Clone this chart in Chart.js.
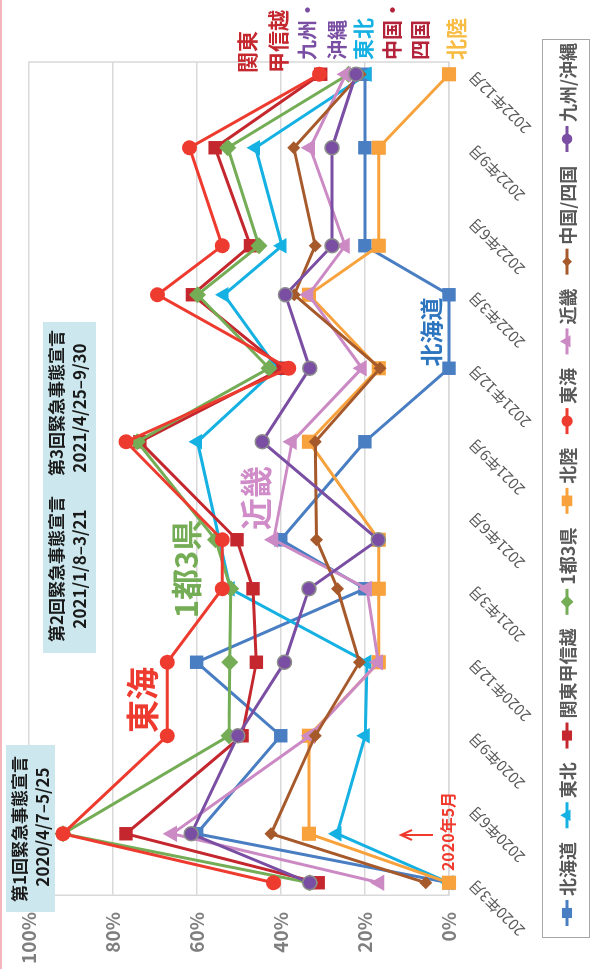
<!DOCTYPE html>
<html lang="ja">
<head>
<meta charset="utf-8">
<title>地域別の推移</title>
<script src="https://cdn.jsdelivr.net/npm/chart.js@4.4.1/dist/chart.umd.min.js"></script>
<style>
  html, body { margin: 0; padding: 0; background: #fff; overflow: hidden; }
  /* the chart is laid out landscape and turned a quarter to the left */
  #wrap {
    position: absolute; left: 0; top: 0;
    width: 969px; height: 592px;
    transform-origin: 0 0;
    transform: translate(0, 969px) rotate(-90deg);
  }
</style>
</head>
<body>
<div id="wrap"><canvas id="chart" width="969" height="592"></canvas></div>
<script>
const periods = ["2020/3", "2020/5", "2020/9", "2020/12", "2021/3", "2021/5",
                 "2021/9", "2021/12", "2022/3", "2022/5", "2022/9", "2022/12"];

const hokkaido  = [0, 60, 40, 60, 20, 40, 20, 0, 0, 20, 20, 20];
const tohoku    = [0, 26.6, 19.9, 19.5, 52, null, 59.8, 40.9, 53.5, 39.7, 46.0, 19.5];
const kanto     = [31.1, 76.8, 49.2, 45.8, 46.6, 50.4, 73.5, 39.5, 61.0, 47.2, 55.6, 30.5];
const tokyo3    = [33.1, 91.8, 52.3, 52.1, 51.9, 55.5, 74.1, 42.8, 59.8, 45.2, 52.6, 23.9];
const hokuriku  = [0, 33.3, 33.3, 16.7, 16.7, 16.7, 33.3, 16.7, 33.3, 16.7, 16.7, 0];
const tokai     = [41.7, 91.8, 67.0, 67.0, 53.9, 53.9, 76.8, 38.1, 69.3, 53.9, 61.7, 30.8];
const kinki     = [16.5, 65.8, 33.0, 16.8, 19.5, 41.7, 37.3, 20.7, 33.4, 24.7, 33.0, 24.5];
const chugoku   = [5.5, 42.3, 31.8, 21.3, 26.5, 31.5, 31.8, 16.4, 36.8, 31.8, 36.9, 21.1];
const kyushu    = [33.1, 61.3, 50.2, 39.1, 33.3, 16.8, 44.4, 33.1, 38.9, 27.8, 27.8, 22.1];

const yTicks = [0, 20, 40, 60, 80, 100];

const FONT = '"Noto Sans CJK JP", "Noto Sans", sans-serif';

const series = [
  { label: "北海道",    data: hokkaido, color: "#4A7EC3", style: "rect",     r: 9.5 },
  { label: "東北",      data: tohoku,   color: "#14B1E2", style: "triangle", r: 9 },
  { label: "関東甲信越", data: kanto,    color: "#C4282E", style: "rect",     r: 9.5 },
  { label: "1都3県",    data: tokyo3,   color: "#74AD55", style: "rectRot",  r: 8.5 },
  { label: "北陸",      data: hokuriku, color: "#F7A23D", style: "rect",     r: 10 },
  { label: "東海",      data: tokai,    color: "#EE3B2F", style: "circle",   r: 7.5 },
  { label: "近畿",      data: kinki,    color: "#CC8AC5", style: "triangle", r: 9.5 },
  { label: "中国/四国",  data: chugoku,  color: "#A65A2B", style: "rectRot",  r: 6.5 },
  { label: "九州/沖縄",  data: kyushu,   color: "#7A4EA3", style: "circle",   r: 7, edge: "#8c8c8c" }
];

// months counted from 2020/3
function monthOffset(p) {
  const [y, m] = p.split("/").map(Number);
  return (y - 2020) * 12 + m - 3;
}
function monthLabel(v) {
  const t = v + 2;
  return (2020 + Math.floor(t / 12)) + "年" + (t % 12 + 1) + "月";
}

function marker(ctx, style, x, y, r) {
  ctx.beginPath();
  if (style === "circle") {
    ctx.arc(x, y, r, 0, Math.PI * 2);
  } else if (style === "rect") {
    const h = r * Math.SQRT1_2;
    ctx.rect(x - h, y - h, 2 * h, 2 * h);
  } else if (style === "rectRot") {
    ctx.moveTo(x, y - r); ctx.lineTo(x + r, y); ctx.lineTo(x, y + r); ctx.lineTo(x - r, y);
    ctx.closePath();
  } else {
    ctx.moveTo(x, y - r);
    ctx.lineTo(x + r * 0.866, y + r * 0.5);
    ctx.lineTo(x - r * 0.866, y + r * 0.5);
    ctx.closePath();
  }
  ctx.fill();
}

function text(ctx, str, x, y, size, color, align) {
  ctx.font = `bold ${size}px ${FONT}`;
  ctx.fillStyle = color;
  ctx.textAlign = align || "center";
  ctx.textBaseline = "middle";
  ctx.fillText(str, x, y);
}

const notes = {
  id: "notes",
  beforeDatasetsDraw(chart) {
    const { ctx, chartArea: a } = chart;
    ctx.save();
    // right edge of the plot
    ctx.strokeStyle = "#d9d9d9";
    ctx.lineWidth = 1.5;
    ctx.beginPath(); ctx.moveTo(a.right, a.top); ctx.lineTo(a.right, a.bottom); ctx.stroke();
    // state of emergency boxes
    ctx.fillStyle = "#CCE8EE";
    ctx.fillRect(57, 6, 167, 49);
    ctx.fillRect(316, 43, 331, 53);
    ctx.restore();
  },
  afterDraw(chart) {
    const { ctx } = chart;
    ctx.save();

    ctx.strokeStyle = "#F5B5BD";
    ctx.lineWidth = 2;
    ctx.beginPath(); ctx.moveTo(0, 1); ctx.lineTo(969, 1); ctx.stroke();

    text(ctx, "第1回緊急事態宣言", 140, 20, 17, "#1a1a1a");
    text(ctx, "2020/4/7\u20135/25", 142, 43, 17, "#1a1a1a");
    text(ctx, "第2回緊急事態宣言", 400, 57, 17, "#1a1a1a");
    text(ctx, "2021/1/8\u20133/21", 400, 80, 17, "#1a1a1a");
    text(ctx, "第3回緊急事態宣言", 566, 57, 17, "#1a1a1a");
    text(ctx, "2021/4/25\u20139/30", 561, 80, 17, "#1a1a1a");

    text(ctx, "東海", 269, 142, 33, "#EE3B2F");
    text(ctx, "1都3県", 400, 186, 31, "#74AD55");
    text(ctx, "近畿", 471, 256, 32, "#D08CC8");
    text(ctx, "北海道", 637, 431, 23, "#2E75C0");

    text(ctx, "関東", 896, 247, 21, "#C4282E", "left");
    text(ctx, "甲信越", 896, 278, 21, "#C4282E", "left");
    text(ctx, "九州・", 909, 307, 20, "#7A4EA3", "left");
    text(ctx, "沖縄", 909, 337, 20, "#7A4EA3", "left");
    text(ctx, "東北", 909, 363, 21, "#14B1E2", "left");
    text(ctx, "中国・", 909, 392, 20, "#B3243B", "left");
    text(ctx, "四国", 909, 420, 20, "#B3243B", "left");
    text(ctx, "北陸", 909, 456, 21, "#F8BC45", "left");

    // 2020年5月 pointer
    text(ctx, "2020年5月", 137.5, 448, 16, "#F03A2E");
    ctx.strokeStyle = "#F03A2E";
    ctx.lineWidth = 2;
    ctx.beginPath();
    ctx.moveTo(134, 433); ctx.lineTo(134, 401);
    ctx.moveTo(129, 412); ctx.lineTo(134, 401); ctx.lineTo(139, 412);
    ctx.stroke();

    // legend
    ctx.strokeStyle = "#a6a6a6";
    ctx.lineWidth = 1;
    ctx.strokeRect(31.5, 542.5, 898, 47);
    ctx.font = `bold 18px ${FONT}`;
    const widths = series.map(s => ctx.measureText(s.label).width);
    const lineLen = 26, textGap = 4;
    const used = widths.reduce((sum, w) => sum + w + lineLen + textGap, 0);
    const gap = (926 - 43 - used) / (series.length - 1);
    let x = 43;
    const y = 567;
    series.forEach((s, i) => {
      ctx.strokeStyle = s.color;
      ctx.lineWidth = 3;
      ctx.beginPath(); ctx.moveTo(x, y); ctx.lineTo(x + lineLen, y); ctx.stroke();
      ctx.fillStyle = s.color;
      marker(ctx, s.style, x + lineLen / 2, y, s.r * 0.75);
      text(ctx, s.label, x + lineLen + textGap, y + 1, 18, "#595959", "left");
      x += lineLen + textGap + widths[i] + gap;
    });

    ctx.restore();
  }
};

new Chart(document.getElementById("chart"), {
  type: "line",
  data: {
    datasets: series.map((s, i) => ({
      label: s.label,
      data: s.data.map((v, j) => ({ x: monthOffset(periods[j]), y: v })),
      borderColor: s.color,
      backgroundColor: s.color,
      borderWidth: 3,
      pointStyle: s.style,
      pointRadius: s.r,
      pointBackgroundColor: s.color,
      pointBorderColor: s.edge || s.color,
      pointBorderWidth: s.edge ? 1.5 : 0,
      tension: 0,
      spanGaps: true,
      clip: false,
      order: series.length - i
    }))
  },
  options: {
    responsive: false,
    animation: false,
    layout: { padding: { top: 27, right: 62, bottom: 55, left: 0 } },
    plugins: {
      legend: { display: false },
      tooltip: { enabled: false }
    },
    scales: {
      x: {
        type: "linear",
        min: -0.5,
        max: 33.5,
        afterFit: s => { s.height = 88; },
        border: { color: "#d9d9d9", width: 1.5 },
        grid: { display: false },
        ticks: {
          stepSize: 3,
          includeBounds: false,
          autoSkip: false,
          minRotation: 45,
          maxRotation: 45,
          padding: 8,
          color: "#595959",
          font: { family: FONT, size: 15 },
          callback: v => Number.isInteger(v) ? monthLabel(v) : ""
        }
      },
      y: {
        min: yTicks[0],
        max: yTicks[yTicks.length - 1],
        afterFit: s => { s.width = 74; },
        border: { color: "#d9d9d9", width: 1.5 },
        grid: { color: "#d9d9d9", lineWidth: 1.5, drawTicks: false },
        ticks: {
          stepSize: 20,
          padding: 17,
          color: "#7f7f7f",
          font: { family: FONT, size: 19, weight: "bold" },
          callback: v => v + "%"
        }
      }
    }
  },
  plugins: [notes]
});
</script>
</body>
</html>
